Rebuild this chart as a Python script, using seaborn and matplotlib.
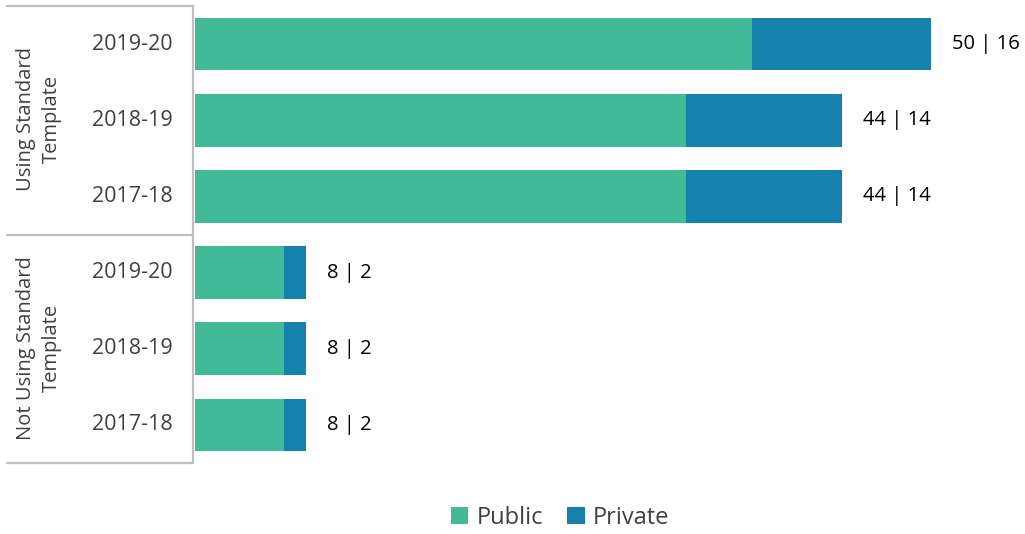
import pandas as pd
import matplotlib.pyplot as plt
import seaborn as sns
from matplotlib.lines import Line2D
from matplotlib.patches import Patch

# Data
groups = ['Using Standard\nTemplate'] * 3 + ['Not Using Standard\nTemplate'] * 3
years = ['2019-20', '2018-19', '2017-18', '2019-20', '2018-19', '2017-18']
public = [50, 44, 44, 8, 8, 8]
private = [16, 14, 14, 2, 2, 2]

public_color = '#43BA97'
private_color = '#1681AD'
text_color = '#404040'
line_color = '#BFBFBF'

sns.set_style('white')
plt.rcParams['font.family'] = ['Open Sans', 'DejaVu Sans']

df = pd.DataFrame({
    'row': [f'{g}|{y}|{i}' for i, (g, y) in enumerate(zip(groups, years))],
    'year': years,
    'public': public,
    'private': private,
})
df['total'] = df['public'] + df['private']
order = list(df['row'])

fig = plt.figure(figsize=(10.25, 5.34), dpi=100)
ax = fig.add_axes([195 / 1025, 1 - 463 / 534, 805 / 1025, 457 / 534])

sns.barplot(data=df, x='total', y='row', order=order, orient='h',
            color=private_color, width=0.69, saturation=1, linewidth=0, ax=ax)
sns.barplot(data=df, x='public', y='row', order=order, orient='h',
            color=public_color, width=0.69, saturation=1, linewidth=0, ax=ax)

ax.set_xlim(0, 72.2)
ax.set_ylim(5.5, -0.5)
ax.set_xticks([])
ax.set_yticks([])
ax.set_xlabel('')
ax.set_ylabel('')
for s in ax.spines.values():
    s.set_visible(False)

# value labels
for i, r in df.iterrows():
    ax.annotate(f"{r['public']} | {r['private']}", (r['total'], i),
                xytext=(21, 0), textcoords='offset pixels',
                va='center', ha='left', fontsize=14.5, color='black')

# year labels
for i, y in enumerate(years):
    ax.annotate(y, (0, i), xytext=(-22, 0), textcoords='offset pixels',
                va='center', ha='right', fontsize=15.5, color=text_color,
                annotation_clip=False)

# group labels and box lines (figure pixel coordinates)
def fx(px):
    return px / 1025

def fy(py):
    return 1 - py / 534

fig.text(fx(39), fy(119), 'Using Standard\nTemplate', rotation=90, ha='center',
         va='center', fontsize=14.5, color=text_color, linespacing=1.35, multialignment='center')
fig.text(fx(39), fy(348), 'Not Using Standard\nTemplate', rotation=90, ha='center',
         va='center', fontsize=14.5, color=text_color, linespacing=1.35, multialignment='center')

for y0 in [6, 235, 463]:
    fig.add_artist(Line2D([fx(7), fx(193)], [fy(y0), fy(y0)], color=line_color, lw=1.6))
fig.add_artist(Line2D([fx(193), fx(193)], [fy(6), fy(463)], color=line_color, lw=1.6))

handles = [Patch(facecolor=public_color, linewidth=0, label='Public'),
           Patch(facecolor=private_color, linewidth=0, label='Private')]
fig.legend(handles=handles, loc='center', bbox_to_anchor=(fx(560), fy(518)), ncol=2,
           frameon=False, fontsize=17, handlelength=0.75, handleheight=0.75,
           handletextpad=0.35, columnspacing=1.0, labelcolor=text_color)

fig.savefig('out.png', dpi=100)
